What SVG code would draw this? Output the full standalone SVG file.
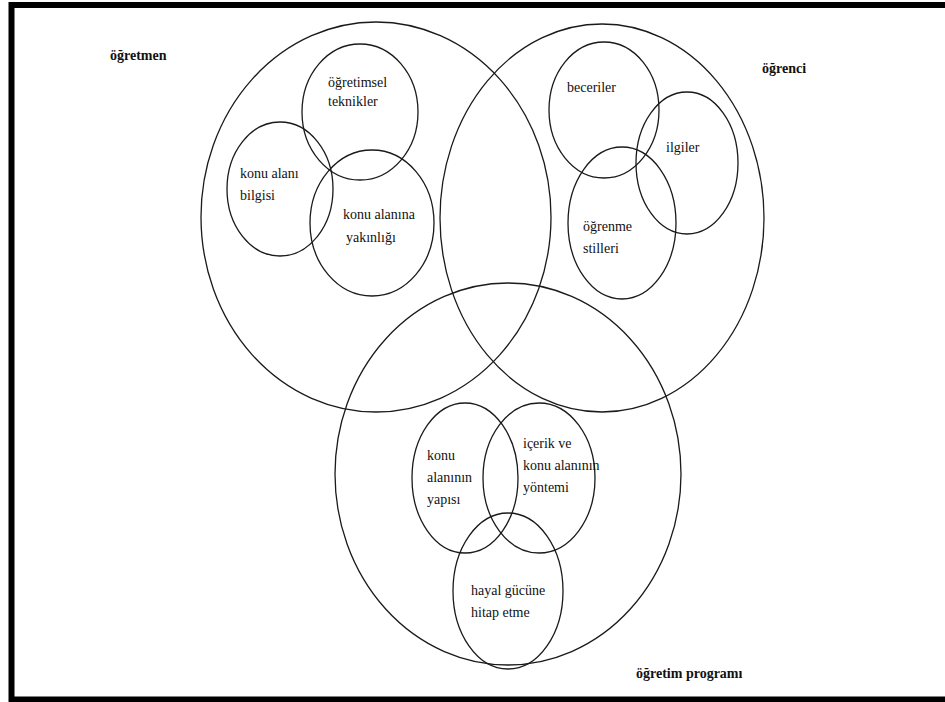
<svg xmlns="http://www.w3.org/2000/svg" width="945" height="702" viewBox="0 0 945 702">
<style>
.c{fill:none;stroke:#1a1a1a;stroke-width:1.3}
.b{font-weight:bold}
</style>
<rect x="0" y="0" width="945" height="702" fill="#fff"/>
<rect x="11.5" y="5" width="940" height="694.5" fill="none" stroke="#000" stroke-width="6"/>
<g font-family="Liberation Serif, Times New Roman, Times, serif" font-size="14" fill="#111">
<g id="ogretmen">
<ellipse class="c" cx="376" cy="217" rx="175" ry="195"/>
<text class="b" x="110" y="60">öğretmen</text>
</g>
<g id="ogrenci">
<ellipse class="c" cx="602" cy="218" rx="162" ry="194"/>
<text class="b" x="762" y="73">öğrenci</text>
</g>
<g id="ogretim-programi">
<ellipse class="c" cx="508" cy="474" rx="173" ry="191"/>
<text class="b" x="636" y="678">öğretim programı</text>
</g>
<g id="ogretimsel-teknikler">
<ellipse class="c" cx="360" cy="112" rx="58" ry="68"/>
<text x="328" y="87">öğretimsel</text>
<text x="328" y="106">teknikler</text>
</g>
<g id="konu-alani-bilgisi">
<ellipse class="c" cx="280" cy="189" rx="53" ry="67"/>
<text x="240" y="178">konu alanı</text>
<text x="240" y="200">bilgisi</text>
</g>
<g id="konu-alanina-yakinligi">
<ellipse class="c" cx="372" cy="223" rx="62" ry="73"/>
<text x="343" y="219">konu alanına</text>
<text x="346" y="242">yakınlığı</text>
</g>
<g id="beceriler">
<ellipse class="c" cx="604" cy="110" rx="55" ry="68"/>
<text x="567" y="92">beceriler</text>
</g>
<g id="ilgiler">
<ellipse class="c" cx="687" cy="163" rx="51" ry="71"/>
<text x="666" y="152">ilgiler</text>
</g>
<g id="ogrenme-stilleri">
<ellipse class="c" cx="622" cy="223" rx="54" ry="76"/>
<text x="583" y="231">öğrenme</text>
<text x="583" y="253">stilleri</text>
</g>
<g id="konu-alaninin-yapisi">
<ellipse class="c" cx="465" cy="478" rx="53" ry="75"/>
<text x="427" y="460">konu</text>
<text x="427" y="482">alanının</text>
<text x="427" y="504">yapısı</text>
</g>
<g id="icerik-ve-yontemi">
<ellipse class="c" cx="539" cy="478" rx="56" ry="75"/>
<text x="523" y="448">içerik ve</text>
<text x="523" y="470">konu alanının</text>
<text x="523" y="492">yöntemi</text>
</g>
<g id="hayal-gucune">
<ellipse class="c" cx="508" cy="591" rx="55" ry="78"/>
<text x="471" y="595">hayal gücüne</text>
<text x="471" y="617">hitap etme</text>
</g>
</g>
<g id="connectors"></g>
</svg>
